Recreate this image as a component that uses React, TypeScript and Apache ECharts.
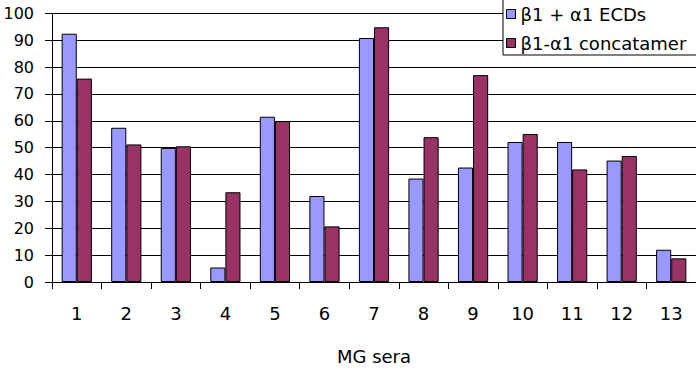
import React, { useEffect, useRef } from "react";
import * as echarts from "echarts";

const categories = ["1", "2", "3", "4", "5", "6", "7", "8", "9", "10", "11", "12", "13"];
const ecdsValues = [92.4, 57.4, 49.9, 5.4, 61.5, 32.0, 90.8, 38.5, 42.6, 52.1, 52.1, 45.2, 12.0];
const concatamerValues = [75.7, 51.2, 50.5, 33.4, 59.9, 20.7, 94.8, 53.9, 77.0, 55.1, 41.9, 46.9, 8.8];
const seriesNames = ["β1 + α1 ECDs", "β1-α1 concatamer"];
const xAxisTitle = "MG sera";

const FONT = "DejaVu Sans";

export default function App() {
  const ref = useRef<HTMLDivElement>(null);
  useEffect(() => {
    if (!ref.current) return;
    const chart = echarts.init(ref.current, null, { renderer: "svg" });
    chart.setOption({
      animation: false,
      backgroundColor: "#ffffff",
      grid: { left: 52, top: 13.3, width: 648, height: 275, containLabel: false },
      legend: {
        orient: "vertical",
        left: 503,
        top: -1,
        padding: [5, 40, 2, 3],
        itemGap: 9,
        itemWidth: 9,
        itemHeight: 9,
        icon: "rect",
        backgroundColor: "#ffffff",
        borderColor: "#000000",
        borderWidth: 1,
        itemStyle: { borderColor: "#000000", borderWidth: 1 },
        textStyle: { fontFamily: FONT, fontSize: 18, color: "#000", lineHeight: 20 },
        data: seriesNames,
      },
      xAxis: {
        type: "category",
        data: categories,
        boundaryGap: true,
        name: xAxisTitle,
        nameLocation: "middle",
        nameGap: 65,
        nameTextStyle: { fontFamily: FONT, fontSize: 18, color: "#000" },
        axisLine: { show: true, lineStyle: { color: "#000", width: 1 } },
        axisTick: { show: true, interval: 0, length: 7, lineStyle: { color: "#000" } },
        axisLabel: { interval: 0, margin: 22, fontFamily: FONT, fontSize: 18, color: "#000" },
        splitLine: { show: false },
      },
      yAxis: {
        type: "value",
        min: 0,
        max: 100,
        interval: 10,
        axisLine: { show: true, lineStyle: { color: "#000", width: 1 } },
        axisTick: { show: true, length: 7, lineStyle: { color: "#000" } },
        axisLabel: { margin: 18, fontFamily: FONT, fontSize: 16, color: "#000" },
        splitLine: { show: true, lineStyle: { color: "#000", width: 1 } },
      },
      series: [
        {
          name: seriesNames[0],
          type: "bar",
          data: ecdsValues,
          barGap: "0%",
          barCategoryGap: "39%",
          itemStyle: { color: "#9999FF", borderColor: "#000", borderWidth: 1 },
        },
        {
          name: seriesNames[1],
          type: "bar",
          data: concatamerValues,
          barGap: "0%",
          barCategoryGap: "39%",
          itemStyle: { color: "#993366", borderColor: "#000", borderWidth: 1 },
        },
      ],
    });
    return () => chart.dispose();
  }, []);
  return (
    <div
      ref={ref}
      style={{ position: "fixed", left: 0, top: 0, width: 696, height: 370 }}
    />
  );
}
